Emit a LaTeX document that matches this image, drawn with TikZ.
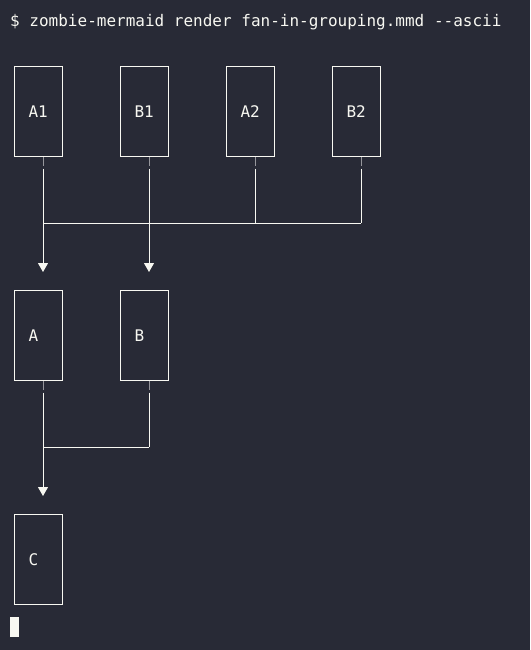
\documentclass[tikz,border=0pt]{standalone}
\usepackage{fontspec}
\setmonofont{DejaVu Sans Mono}
\usepackage{tikz}
\usetikzlibrary{arrows.meta,positioning}
\usepackage{xcolor}
\definecolor{termbg}{RGB}{40,42,54}
\definecolor{termfg}{RGB}{248,248,242}
\definecolor{termtick}{RGB}{150,150,156}
\newcommand{\termfont}{\ttfamily\fontsize{16pt}{19pt}\selectfont}
\tikzstyle{asciibox} = [draw=termfg, line width=1pt, minimum width=48pt, minimum height=90pt, inner xsep=14.5pt, text width=19pt, align=left, text=termfg, font=\termfont]
\tikzstyle{wire} = [draw=termfg, line width=1pt]
\tikzstyle{tick} = [draw=termtick, line width=1.2pt]
\tikzstyle{arrow} = [wire, -{Triangle[length=9pt,width=10pt]}, shorten >=18pt]

\begin{document}
\begin{tikzpicture}[x=1pt,y=-1pt]
\fill[termbg] (0,0) rectangle (530,650);
\useasboundingbox (0,0) rectangle (530,650);

% Prompt
\node[anchor=base west, inner sep=0, text=termfg, font=\termfont] (prompt) at (10,27) {\$ zombie-mermaid render fan-in-grouping.mmd -{}-ascii};

% Nodes
\node[asciibox] (a1) at (38,111.5) {A1};
\node[asciibox, right=57pt of a1] (b1) {B1};
\node[asciibox, right=57pt of b1] (a2) {A2};
\node[asciibox, right=57pt of a2] (b2) {B2};
\node[asciibox, below=133pt of a1] (a) {A};
\node[asciibox, below=133pt of b1] (b) {B};
\node[asciibox, below=133pt of a] (c) {C};

% Buses
\coordinate (bus1) at (0,223);
\coordinate (bus2) at (0,447);

% Stems
\foreach \n in {a1,b1,a2,b2} {
  \draw[tick] ([xshift=5.5pt]\n.south) -- ++(0,8.5);
  \draw[wire] ([xshift=5pt]\n.south) ++(0,11.5) -- ([xshift=5pt]\n.south |- bus1);
}
\foreach \n in {a,b} {
  \draw[tick] ([xshift=5.5pt]\n.south) -- ++(0,8.5);
  \draw[wire] ([xshift=5pt]\n.south) ++(0,11.5) -- ([xshift=5pt]\n.south |- bus2);
}

% Fan-in
\draw[wire] ([xshift=5pt]a1.south |- bus1) -- ([xshift=5pt]b2.south |- bus1);
\draw[arrow] ([xshift=5pt]a1.south |- bus1) -- ([xshift=5pt]a.north);
\draw[arrow] ([xshift=5pt]b1.south |- bus1) -- ([xshift=5pt]b.north);
\draw[wire] ([xshift=5pt]a.south |- bus2) -- ([xshift=5pt]b.south |- bus2);
\draw[arrow] ([xshift=5pt]a.south |- bus2) -- ([xshift=5pt]c.north);

% Cursor
\fill[termfg] (10,617) rectangle (19,637);
\end{tikzpicture}
\end{document}
